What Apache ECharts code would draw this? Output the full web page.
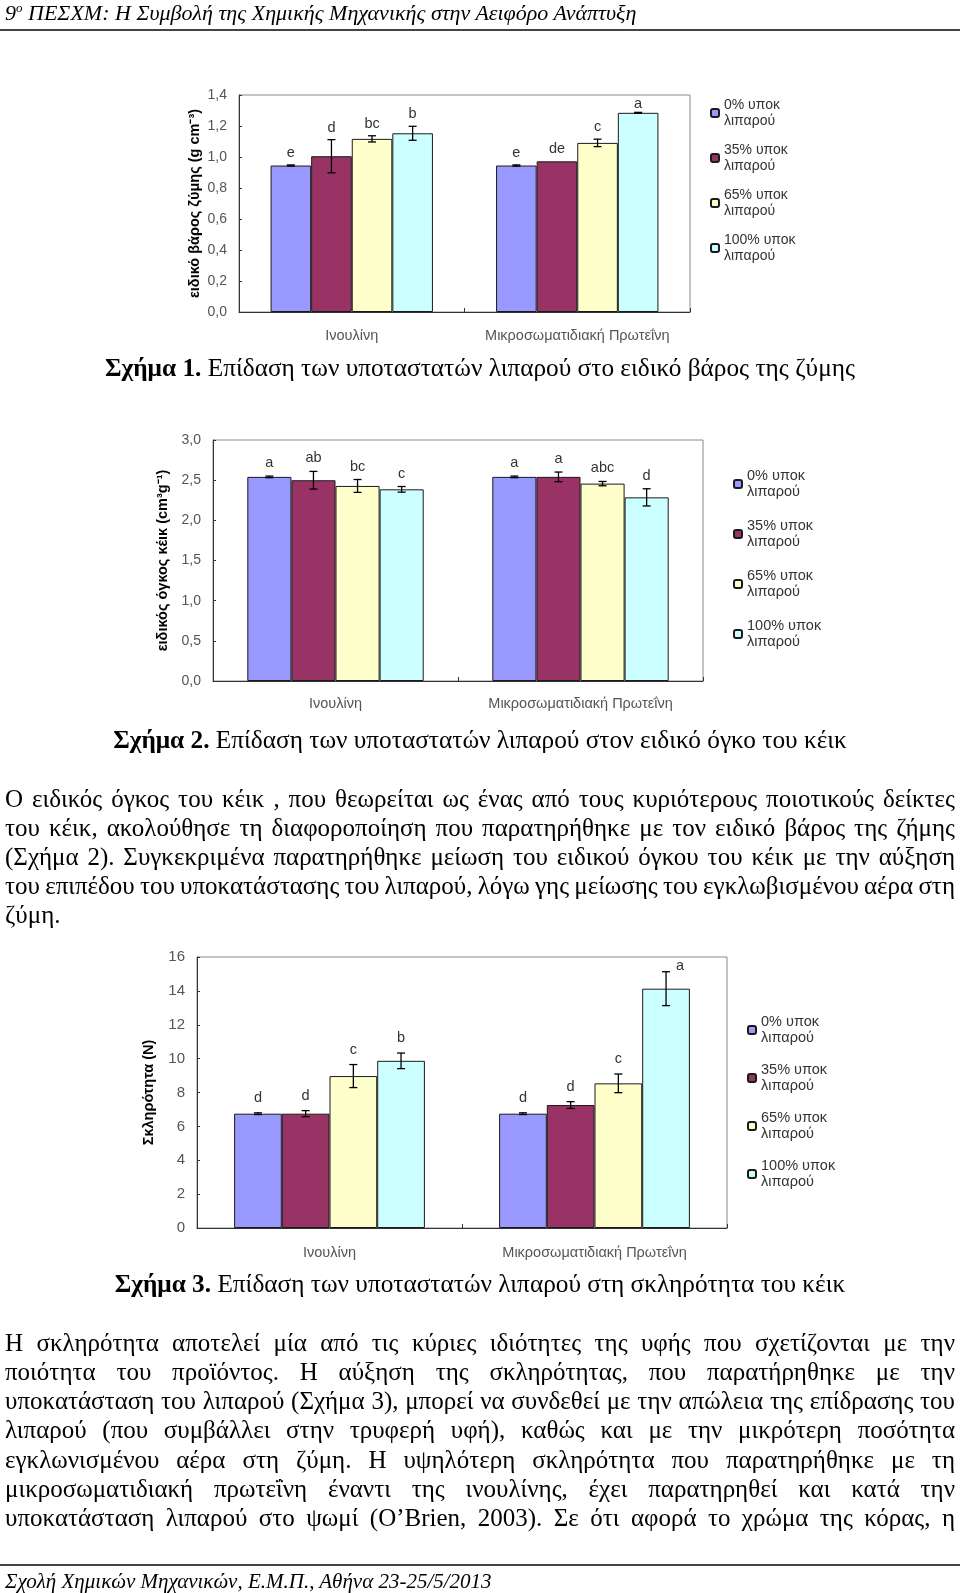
<!DOCTYPE html>
<html>
<head>
<meta charset="utf-8">
<script src="https://cdn.jsdelivr.net/npm/echarts/dist/echarts.min.js"></script>
<style>
  html, body { margin: 0; padding: 0; background: #fff; }
  #page { position: relative; width: 960px; height: 1593px; overflow: hidden; background: #fff; }
  #chart { position: absolute; left: 0; top: 0; width: 960px; height: 1593px; }
  .t { position: absolute; font-family: "Liberation Serif", "Times New Roman", serif; color: #000; white-space: nowrap; z-index: 2; }
  .hdr { font-style: italic; font-size: 21px; line-height: 26px; }
  .cap { left: 0; width: 960px; text-align: center; font-size: 25.3px; line-height: 29px; }
  .ln { left: 5px; width: 950px; font-size: 25px; line-height: 29px; text-align: justify; text-align-last: justify; }
  .last { text-align-last: left; }
  .rule { position: absolute; left: 0; width: 960px; height: 2px; background: #444; z-index: 2; }
</style>
</head>
<body>
<div id="page">
  <div id="chart"></div>

  <div class="t hdr" style="left:5px; top:0px; font-size:22px;">9<sup style="font-size:13px; line-height:0;">ο</sup> ΠΕΣΧΜ: Η Συμβολή της Χημικής Μηχανικής στην Αειφόρο Ανάπτυξη</div>
  <div class="rule" style="top:28.5px;"></div>

  <div class="t cap" style="top:353px;"><b>Σχήμα 1.</b> Επίδαση των υποταστατών λιπαρού στο ειδικό βάρος της ζύμης</div>
  <div class="t cap" style="top:725px;"><b>Σχήμα 2.</b> Επίδαση των υποταστατών λιπαρού στον ειδικό όγκο του κέικ</div>

  <div class="t ln" style="top:784px;">Ο ειδικός όγκος του κέικ , που θεωρείται ως ένας από τους κυριότερους ποιοτικούς δείκτες</div>
  <div class="t ln" style="top:813px;">του κέικ, ακολούθησε τη διαφοροποίηση που παρατηρήθηκε με τον ειδικό βάρος της ζήμης</div>
  <div class="t ln" style="top:842px;">(Σχήμα 2). Συγκεκριμένα παρατηρήθηκε μείωση του ειδικού όγκου του κέικ με την αύξηση</div>
  <div class="t ln" style="top:871px;">του επιπέδου του υποκατάστασης του λιπαρού, λόγω γης μείωσης του εγκλωβισμένου αέρα στη</div>
  <div class="t ln last" style="top:900px;">ζύμη.</div>

  <div class="t cap" style="top:1269px;"><b>Σχήμα 3.</b> Επίδαση των υποταστατών λιπαρού στη σκληρότητα του κέικ</div>

  <div class="t ln" style="top:1328px;">Η σκληρότητα αποτελεί μία από τις κύριες ιδιότητες της υφής που σχετίζονται με την</div>
  <div class="t ln" style="top:1357px;">ποιότητα του προϊόντος. Η αύξηση της σκληρότητας, που παρατήρηθηκε με την</div>
  <div class="t ln" style="top:1386px;">υποκατάσταση του λιπαρού (Σχήμα 3), μπορεί να συνδεθεί με την απώλεια της επίδρασης του</div>
  <div class="t ln" style="top:1415px;">λιπαρού (που συμβάλλει στην τρυφερή υφή), καθώς και με την μικρότερη ποσότητα</div>
  <div class="t ln" style="top:1445px;">εγκλωνισμένου αέρα στη ζύμη. Η υψηλότερη σκληρότητα που παρατηρήθηκε με τη</div>
  <div class="t ln" style="top:1474px;">μικροσωματιδιακή πρωτεΐνη έναντι της ινουλίνης, έχει παρατηρηθεί και κατά την</div>
  <div class="t ln" style="top:1503px;">υποκατάσταση λιπαρού στο ψωμί (O’Brien, 2003). Σε ότι αφορά το χρώμα της κόρας, η</div>

  <div class="rule" style="top:1564px;"></div>
  <div class="t hdr" style="left:5px; top:1568px;">Σχολή Χημικών Μηχανικών, Ε.Μ.Π., Αθήνα 23-25/5/2013</div>
</div>

<script>
// Fit justified lines that are naturally a little too wide (tighten word spacing only).
document.querySelectorAll('.ln').forEach(function (el) {
  const probe = document.createElement('span');
  probe.textContent = el.textContent;
  probe.style.cssText = 'position:absolute;visibility:hidden;white-space:nowrap;font:' + getComputedStyle(el).font;
  document.body.appendChild(probe);
  const w = probe.getBoundingClientRect().width;
  document.body.removeChild(probe);
  const spaces = (el.textContent.match(/ /g) || []).length;
  if (w > 950 && spaces > 0) el.style.wordSpacing = ((950 - w) / spaces - 0.2) + 'px';
});

// ---------------- DATA ----------------
const categories = ['Ινουλίνη', 'Μικροσωματιδιακή Πρωτεΐνη'];
const seriesNames = ['0% υποκ λιπαρού', '35% υποκ λιπαρού', '65% υποκ λιπαρού', '100% υποκ λιπαρού'];

// Figure 1: specific gravity of batter (g cm^-3); each row = one fat-replacement level, [inulin, protein]
const densityMeans   = [[0.945, 0.945], [1.005, 0.972], [1.117, 1.091], [1.153, 1.285]];
const densityErrors  = [[0.004, 0.004], [0.107, 0.0],   [0.020, 0.024], [0.045, 0.003]];
const densityLetters = [['e', 'e'], ['d', 'de'], ['bc', 'c'], ['b', 'a']];
const densityTicks   = ['0,0', '0,2', '0,4', '0,6', '0,8', '1,0', '1,2', '1,4'];

// Figure 2: specific volume of cake (cm^3 g^-1)
const volumeMeans   = [[2.541, 2.541], [2.499, 2.541], [2.428, 2.457], [2.386, 2.286]];
const volumeErrors  = [[0.010, 0.010], [0.110, 0.060], [0.080, 0.027], [0.035, 0.107]];
const volumeLetters = [['a', 'a'], ['ab', 'a'], ['bc', 'abc'], ['c', 'd']];
const volumeTicks   = ['0,0', '0,5', '1,0', '1,5', '2,0', '2,5', '3,0'];

// Figure 3: hardness (N)
const hardnessMeans   = [[6.75, 6.75], [6.75, 7.26], [8.97, 8.54], [9.87, 14.13]];
const hardnessErrors  = [[0.05, 0.05], [0.18, 0.20], [0.68, 0.55], [0.46, 1.00]];
const hardnessLetters = [['d', 'd'], ['d', 'd'], ['c', 'c'], ['b', 'a']];
const hardnessTicks   = ['0', '2', '4', '6', '8', '10', '12', '14', '16'];

const barColors = ['#9999ff', '#993366', '#ffffcc', '#ccffff'];

// ---------------- LAYOUT ----------------
const SANS = '"Liberation Sans", Arial, sans-serif';
const charts = [
  { means: densityMeans, errs: densityErrors, letters: densityLetters, ticks: densityTicks,
    max: 1.4, interval: 0.2, name: 'ειδικό βάρος ζύμης (g cm⁻³)',
    grid: { left: 239, top: 95, width: 451, height: 217 }, nameGap: 37, xMargin: 16, labelGap: 12, tickFont: 14,
    legend: { left: 710, top: 89, gap: -3, font: 14 } },
  { means: volumeMeans, errs: volumeErrors, letters: volumeLetters, ticks: volumeTicks,
    max: 3.0, interval: 0.5, name: 'ειδικός όγκος κέικ (cm³g⁻¹)',
    grid: { left: 213, top: 440, width: 490, height: 241 }, nameGap: 41, xMargin: 15, labelGap: 13, tickFont: 14,
    legend: { left: 733, top: 460, gap: 2, font: 14.5 } },
  { means: hardnessMeans, errs: hardnessErrors, letters: hardnessLetters, ticks: hardnessTicks,
    max: 16, interval: 2, name: 'Σκληρότητα (N)',
    grid: { left: 197, top: 957, width: 530, height: 271 }, nameGap: 41, xMargin: 17, labelGap: 15, tickFont: 15,
    legend: { left: 747, top: 1006, gap: 0, font: 14.5 } }
];

const CAT_GAP = 0.28;

function errSeries(gi, cfg) {
  const data = [];
  cfg.means.forEach((row, s) => row.forEach((v, c) => data.push([c, v, cfg.errs[s][c], s])));
  return {
    type: 'custom', xAxisIndex: gi, yAxisIndex: gi, z: 10, silent: true,
    encode: { x: 0, y: 1 },
    data: data,
    renderItem: function (params, api) {
      const c = api.value(0), v = api.value(1), e = api.value(2), s = api.value(3);
      const letter = cfg.letters[s][c];
      const band = api.size([1, 0])[0];
      const bw = band * (1 - CAT_GAP) / 4;
      const x = api.coord([c, v])[0] + (s - 1.5) * bw;
      const yTop = api.coord([c, v + e])[1];
      const yBot = api.coord([c, v - e])[1];
      const plotTop = api.coord([c, cfg.max])[1];
      const ls = { stroke: '#000', lineWidth: 1.3 };
      const children = [];
      if (e > 0) {
        children.push({ type: 'line', shape: { x1: x, y1: yTop, x2: x, y2: yBot }, style: ls });
        children.push({ type: 'line', shape: { x1: x - 4, y1: yTop, x2: x + 4, y2: yTop }, style: ls });
        children.push({ type: 'line', shape: { x1: x - 4, y1: yBot, x2: x + 4, y2: yBot }, style: ls });
      }
      // letter above the error bar; if the frame pushes it onto the cap, nudge it sideways
      let ly = yTop - cfg.labelGap;
      let lx = x;
      if (ly < plotTop + 9) {
        ly = plotTop + 9;
        if (ly > yTop - 8) lx = x + 14;
      }
      children.push({
        type: 'text',
        style: { x: lx, y: ly, text: letter, align: 'center', verticalAlign: 'middle',
                 fill: '#333', font: '14.5px ' + SANS }
      });
      return { type: 'group', children: children };
    }
  };
}

const option = {
  animation: false,
  backgroundColor: 'transparent',
  grid: charts.map(c => Object.assign({ show: true, borderColor: '#8a8a8a', borderWidth: 1, backgroundColor: 'transparent' }, c.grid)),
  xAxis: charts.map((c, i) => ({
    type: 'category', gridIndex: i, data: categories,
    axisLine: { show: true, lineStyle: { color: '#333', width: 1 } },
    axisTick: { show: true, inside: true, length: 4, lineStyle: { color: '#333' } },
    axisLabel: { color: '#555', fontSize: 14.5, fontFamily: SANS, margin: c.xMargin, interval: 0, hideOverlap: false }
  })),
  yAxis: charts.map((c, i) => ({
    type: 'value', gridIndex: i, min: 0, max: c.max, interval: c.interval,
    name: c.name, nameLocation: 'middle', nameGap: c.nameGap,
    nameTextStyle: { color: '#000', fontWeight: 'bold', fontSize: 14.5, fontFamily: SANS },
    axisLine: { show: true, lineStyle: { color: '#333', width: 1 } },
    axisTick: { show: true, inside: true, length: 3, lineStyle: { color: '#333' } },
    splitLine: { show: false },
    axisLabel: { color: '#555', fontSize: c.tickFont, fontFamily: SANS, margin: 12,
                 formatter: (v) => c.ticks[Math.round(v / c.interval)] }
  })),
  legend: charts.map(c => ({
    orient: 'vertical', left: c.legend.left, top: c.legend.top, padding: 0,
    itemWidth: 8, itemHeight: 8, itemGap: c.legend.gap, selectedMode: false,
    data: seriesNames,
    formatter: (n) => n.replace(' λιπαρού', '\nλιπαρού'),
    textStyle: { color: '#333', fontSize: c.legend.font, lineHeight: 16, fontFamily: SANS, padding: [16, 0, 0, 0] }
  })),
  series: []
};

charts.forEach((c, gi) => {
  seriesNames.forEach((name, s) => {
    option.series.push({
      type: 'bar', name: name, xAxisIndex: gi, yAxisIndex: gi,
      data: c.means[s], barGap: '0%', barCategoryGap: (CAT_GAP * 100) + '%',
      itemStyle: { color: barColors[s], borderColor: '#1a1a1a', borderWidth: 1 },
      silent: true
    });
  });
  option.series.push(errSeries(gi, c));
});

const chart = echarts.init(document.getElementById('chart'), null, { renderer: 'canvas' });
chart.setOption(option);
</script>
</body>
</html>
